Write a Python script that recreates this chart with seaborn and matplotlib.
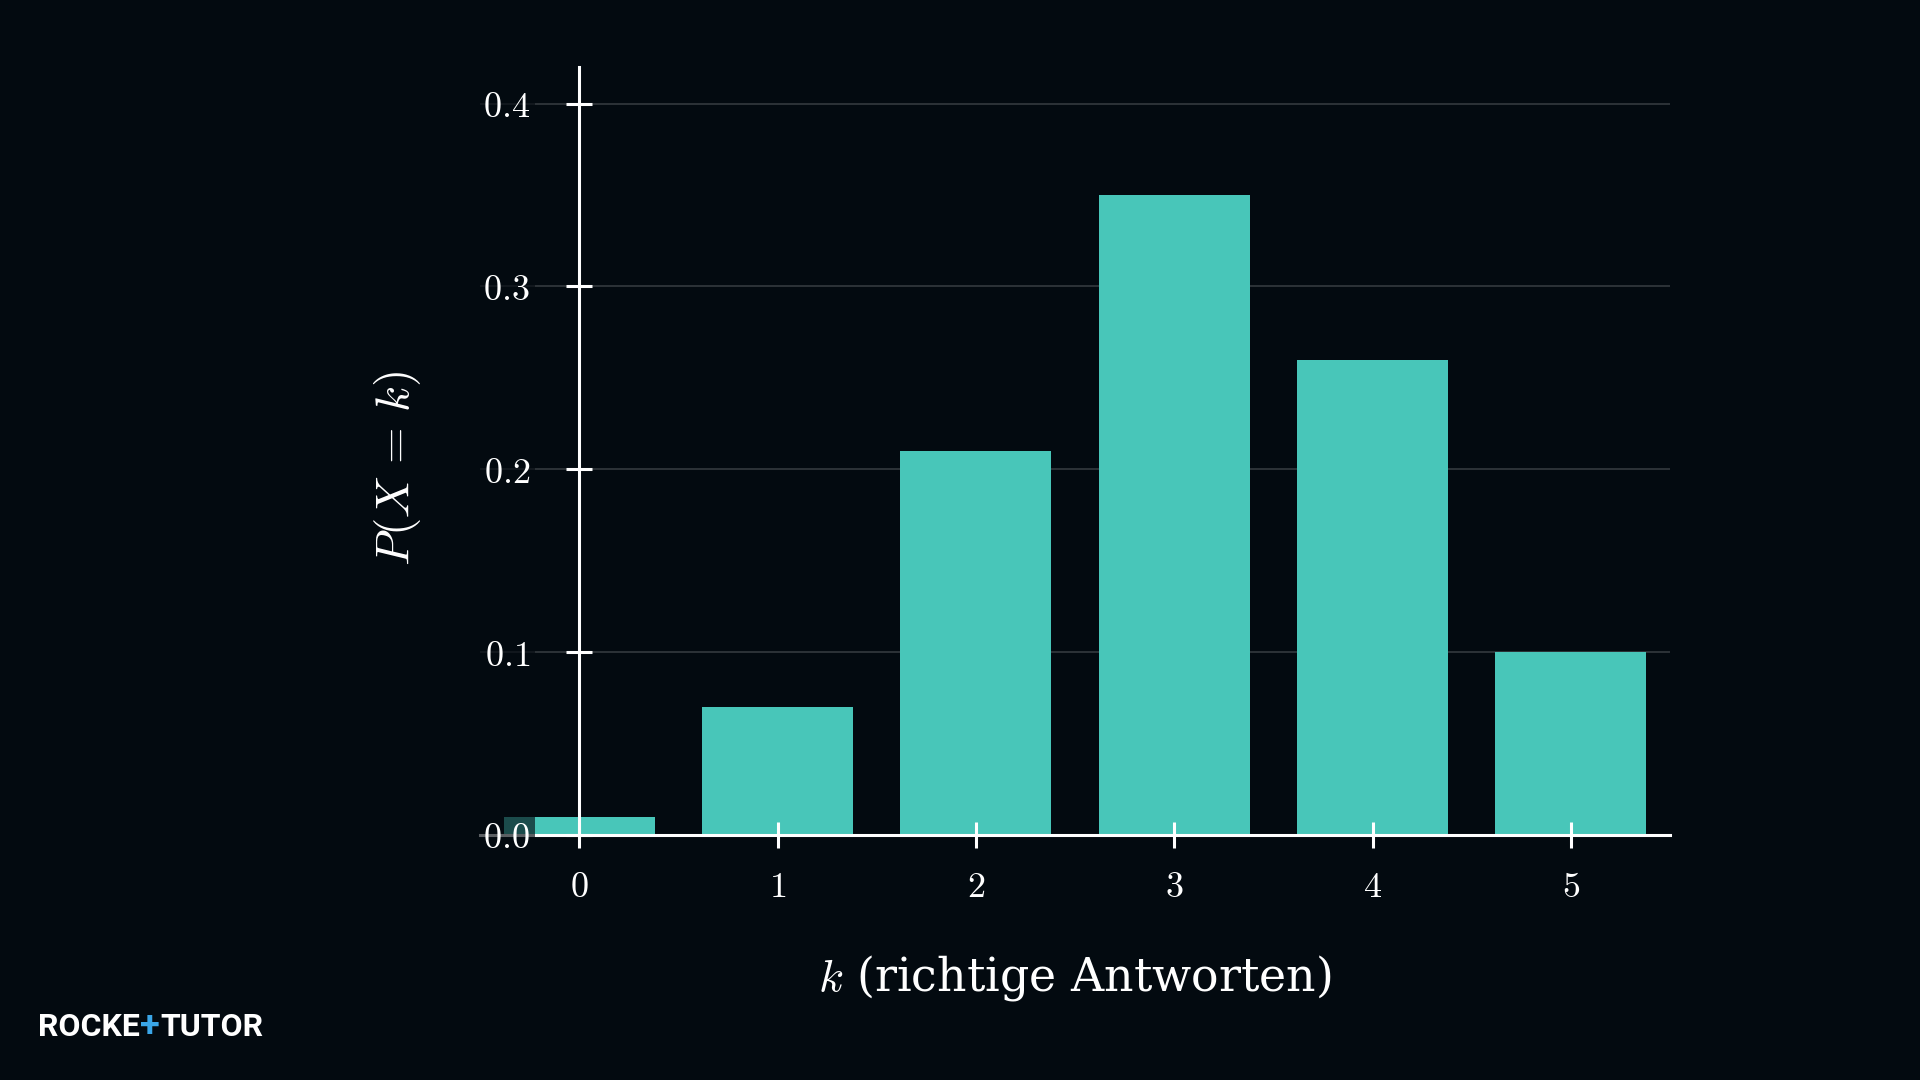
import matplotlib
matplotlib.use("Agg")
import matplotlib.pyplot as plt
import seaborn as sns
from matplotlib.ticker import FuncFormatter

# data
k_values = [0, 1, 2, 3, 4, 5]
probs = [0.01, 0.07, 0.21, 0.35, 0.26, 0.10]
y_ticks = [0.0, 0.1, 0.2, 0.3, 0.4]

bg = "#030a10"
bar_color = "#48c6b9"
fg = "white"

sns.set_theme(style="dark")
plt.rcParams["mathtext.fontset"] = "cm"
plt.rcParams["font.family"] = ["DejaVu Serif"]

fig = plt.figure(figsize=(19.2, 10.8), dpi=100, facecolor=bg)
ax = fig.add_axes([0.25, 0.2269, 0.6198, 0.7111])
ax.set_facecolor(bg)

sns.barplot(x=k_values, y=probs, color=bar_color, saturation=1, width=0.76,
            ax=ax, zorder=1, edgecolor="none", linewidth=0)

ax.set_xlim(-0.5, 5.5)
ax.set_ylim(0, 0.42)
ax.set_axisbelow(False)

# grid lines below bars
for yt in y_ticks[1:]:
    ax.axhline(yt, color="#34393e", lw=1.2, zorder=0.2)

for s in ["top", "right"]:
    ax.spines[s].set_visible(False)
ax.spines["left"].set_position(("data", 0))
ax.spines["left"].set_color(fg)
ax.spines["left"].set_linewidth(2.2)
ax.spines["left"].set_zorder(3)
ax.spines["bottom"].set_color(fg)
ax.spines["bottom"].set_linewidth(2.2)

ax.set_yticks(y_ticks)
ax.yaxis.set_major_formatter(FuncFormatter(lambda v, p: f"${v:.1f}$"))
ax.xaxis.set_major_formatter(FuncFormatter(lambda v, p: f"${int(round(v))}$"))

ax.tick_params(axis="y", left=True, direction="inout", length=19, width=2.2,
               color=fg, labelcolor=fg, labelsize=26, pad=26)
ax.tick_params(axis="x", bottom=True, direction="inout", length=19, width=2.2,
               color=fg, labelcolor=fg, labelsize=26, pad=16)

for lbl in ax.get_yticklabels():
    lbl.set_bbox(dict(facecolor=bg, alpha=0.65, edgecolor="none", pad=4))

ax.set_xlabel("")
ax.set_ylabel("")
fig.text(0.56, 0.094, r"$k$ (richtige Antworten)", color=fg, fontsize=33,
         ha="center", va="center")
fig.text(0.207, 0.566, r"$P(X\,=\,k)$", color=fg, fontsize=34, rotation=90,
         ha="center", va="center")

# logo
logo_font = ["Roboto", "DejaVu Sans"]
x0 = 0.02
t1 = fig.text(x0, 0.049, "ROCKE", color=fg, fontsize=23, fontweight="bold",
              family=logo_font, ha="left", va="center")
fig.canvas.draw()
x1 = t1.get_window_extent().x1 / 1920
t2 = fig.text(x1, 0.049, "+", color="#3aa6e8", fontsize=26, fontweight="bold",
              family=logo_font, ha="left", va="center")
fig.canvas.draw()
x2 = t2.get_window_extent().x1 / 1920
fig.text(x2, 0.049, "TUTOR", color=fg, fontsize=23, fontweight="bold",
         family=logo_font, ha="left", va="center")

fig.savefig("out.png", dpi=100, facecolor=bg)
